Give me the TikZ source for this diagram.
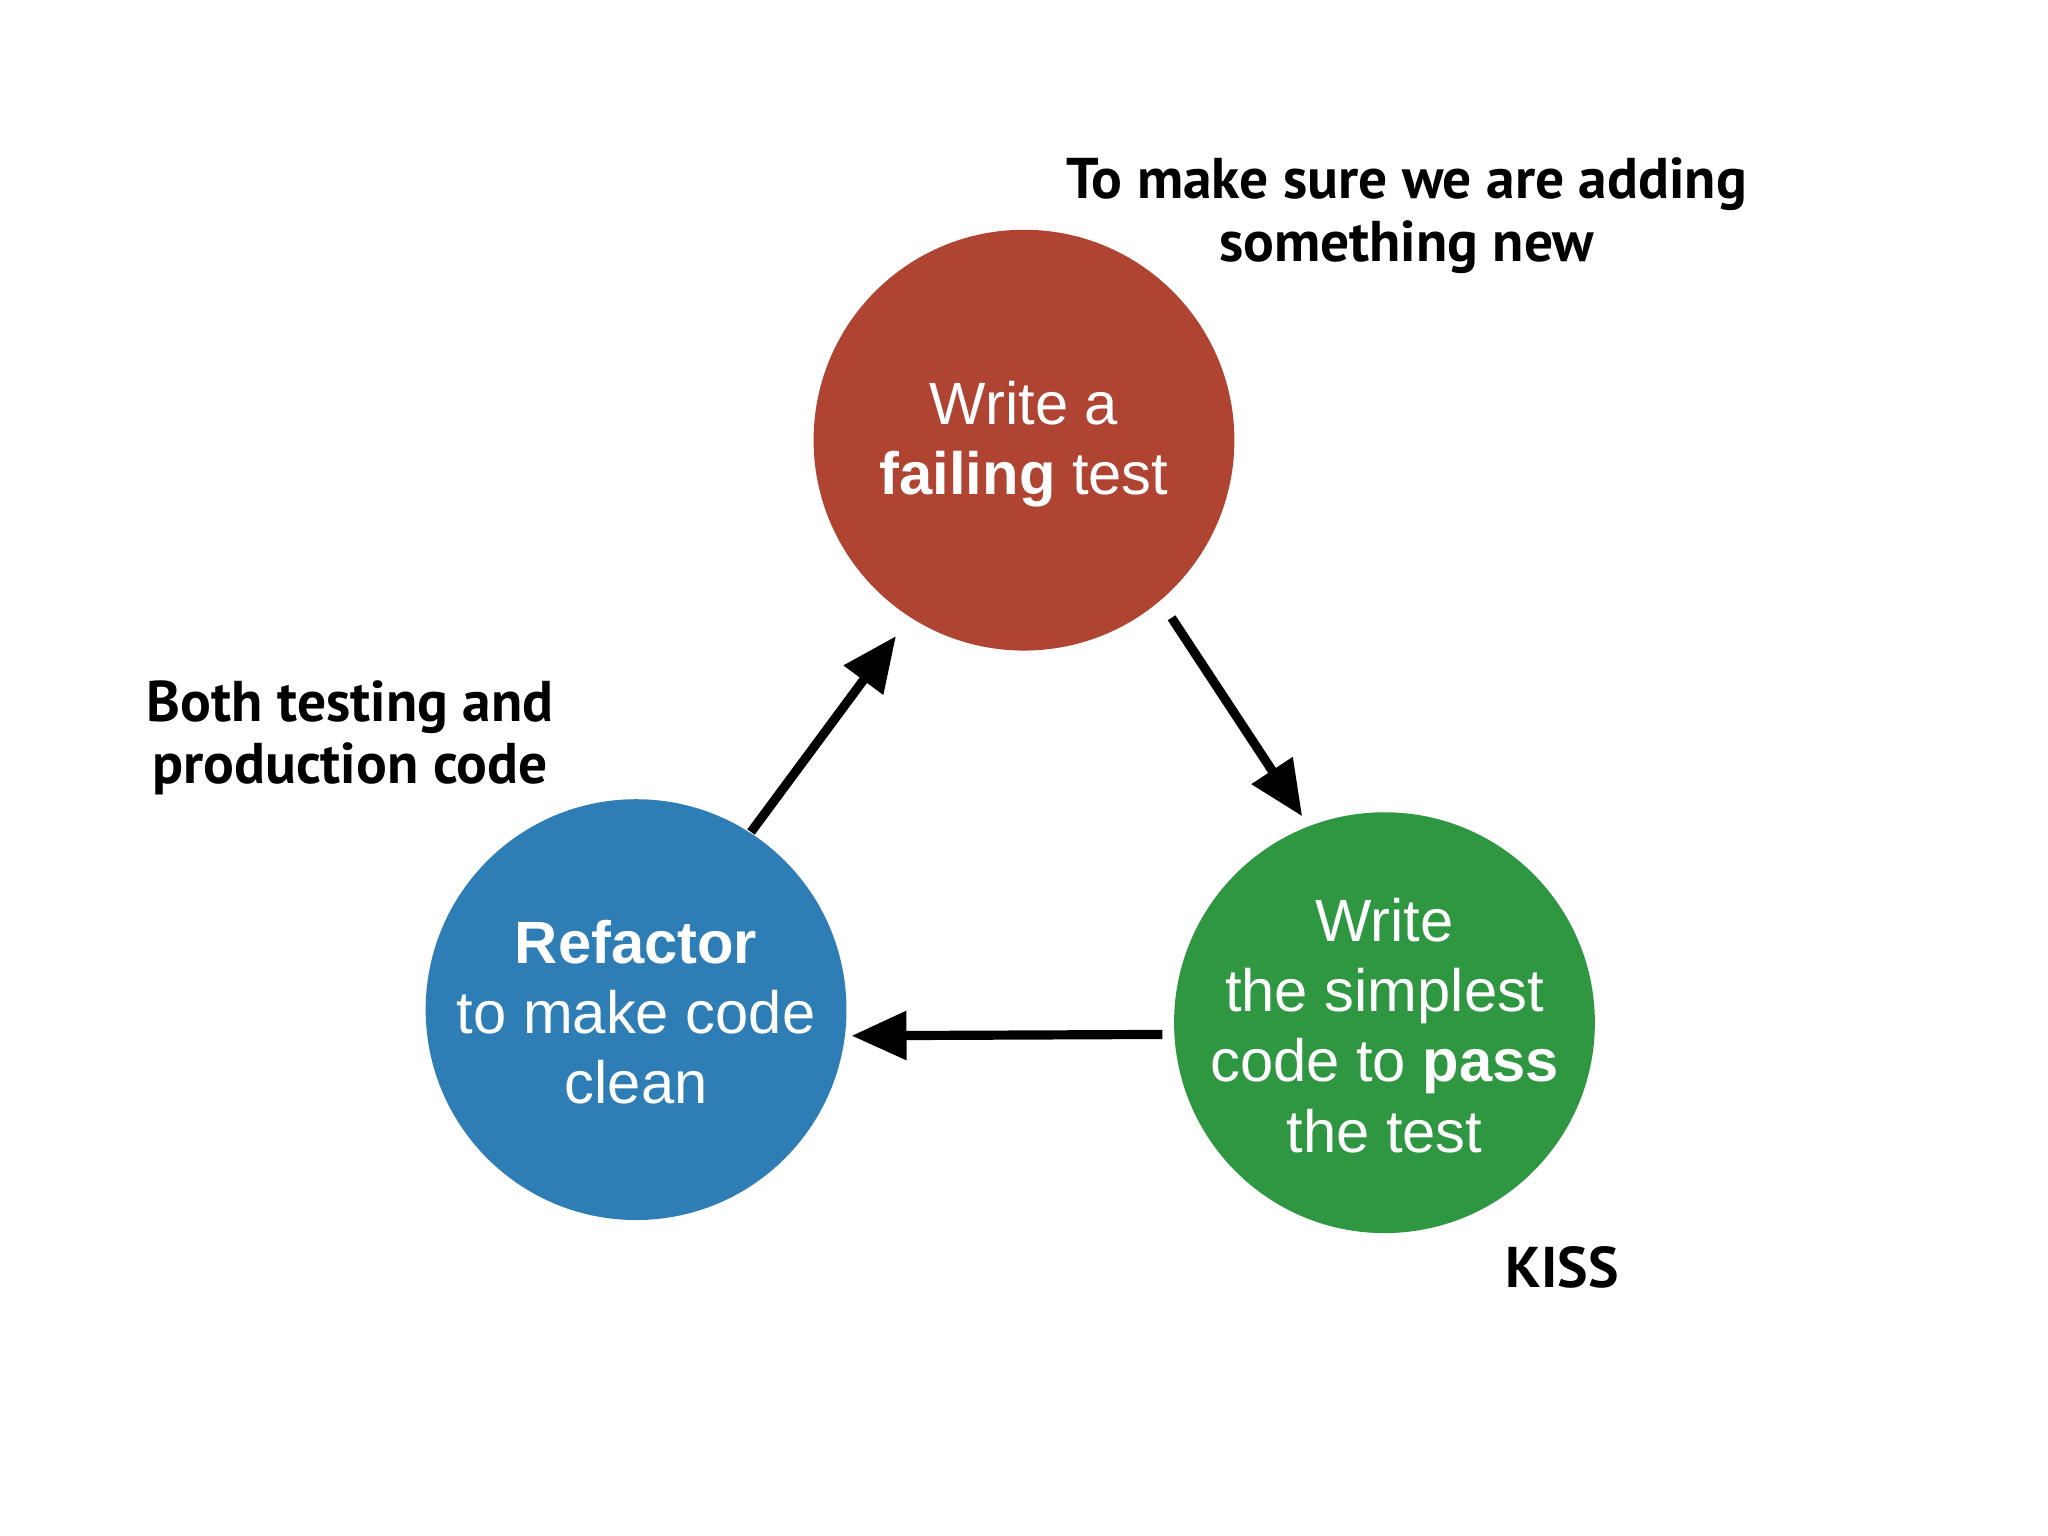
\documentclass[tikz,border=0pt]{standalone}
\usepackage{fontspec}
\setmainfont{Liberation Sans}
\newfontfamily\hand{PT Sans}
\usetikzlibrary{arrows.meta}
\definecolor{cred}{HTML}{B04432}
\definecolor{cblue}{HTML}{2F7DB5}
\definecolor{cgreen}{HTML}{2F9642}
\tikzset{
 circ/.style={circle,minimum size=3.22cm,inner sep=0pt},
 ctext/.style={text=white,align=center,inner sep=0pt,font=\fontsize{13}{15.3}\selectfont},
 arr/.style={line width=2pt,-{Triangle[length=0.42cm,width=0.36cm]}},
 note/.style={align=center,font=\hand\bfseries\fontsize{12.5}{13.6}\selectfont}
}
\begin{document}
\begin{tikzpicture}[x=0.01cm,y=-0.01cm]
\fill[white] (0,0) rectangle (1568,1176);
\node[circ,fill=cred] (r) at (784,337) {};
\node[circ,fill=cgreen] (g) at (1060,783) {};
\node[circ,fill=cblue] (b) at (487,773) {};
\node[ctext] (rt) at (784,340) {Write a\\\textbf{failing} test};
\node[ctext] (gt) at (1060,785) {Write\\the simplest\\code to \textbf{pass}\\the test};
\node[ctext] (bt) at (487,775) {\textbf{Refactor}\\to make code\\clean};
\coordinate (r1) at (897,473); \coordinate (g1) at (997,625);
\coordinate (g2) at (890,792); \coordinate (b2) at (652,793);
\coordinate (b3) at (575,637); \coordinate (r3) at (686,487);
\draw[arr] (r1) -- (g1);
\draw[arr] (g2) -- (b2);
\draw[arr] (b3) -- (r3);
\node[note] (n1) at (1077,165) {To make sure we are adding\\something new};
\node[note] (n2) at (268,565) {Both testing and\\production code};
\node[note] (n3) at (1196,970) {KISS};
\end{tikzpicture}
\end{document}
